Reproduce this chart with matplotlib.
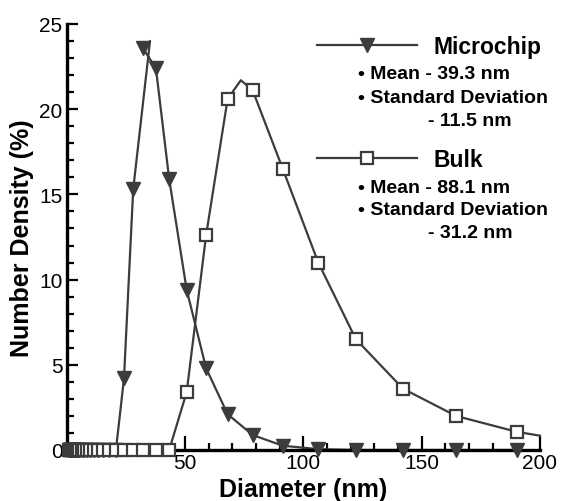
import numpy as np
import matplotlib.pyplot as plt
from matplotlib.lines import Line2D
from matplotlib.ticker import MultipleLocator

plt.rcParams['font.family'] = ['Liberation Sans', 'DejaVu Sans']

# diameter bins (nm)
diam = [1.0, 1.2, 1.4, 1.6, 1.9, 2.2, 2.5, 3.0, 3.4, 4.0, 4.6, 5.4, 6.3, 7.3, 8.5,
        9.8, 11.4, 13.3, 15.4, 17.9, 20.8, 24.2, 28.1, 32.1, 37.7, 43.3, 50.7,
        58.9, 68.0, 78.6, 91.3, 106.3, 122.2, 142.1, 164.5, 190.1]

# Microchip number density (%)
micro = [0] * 21 + [4.2, 15.3, 23.6, 22.4, 15.9, 9.4, 4.8, 2.1, 0.88, 0.25, 0.05,
                    0, 0, 0, 0]
micro_peak = (35.2, 24.0)   # top of the drawn curve, no marker

# Bulk number density (%)
bulk = [0] * 26 + [3.4, 12.6, 20.6, 21.1, 16.5, 11.0, 6.5, 3.6, 2.0, 1.07]
bulk_peak = (73.6, 21.7)
bulk_end = (200.0, 0.84)

col = '#3c3c3c'

fig = plt.figure(figsize=(5.63, 5.02), dpi=100)
ax = fig.add_axes([0.1185, 0.1016, 0.8406, 0.8486])

# curves: data points plus the drawn peak vertex
mx = diam[:23] + [micro_peak[0]] + diam[23:]
my = micro[:23] + [micro_peak[1]] + micro[23:]
ax.plot(mx, my, color=col, lw=1.6, clip_on=False, zorder=2)
ax.plot(diam, micro, ls='none', marker='v', ms=9.5, color=col, mfc=col, mec=col,
        clip_on=False, zorder=3)

bx = diam[:29] + [bulk_peak[0]] + diam[29:] + [bulk_end[0]]
by = bulk[:29] + [bulk_peak[1]] + bulk[29:] + [bulk_end[1]]
ax.plot(bx, by, color=col, lw=1.6, clip_on=False, zorder=4)
ax.plot(diam, bulk, ls='none', marker='s', ms=9, mfc='white', mec=col, mew=1.6,
        clip_on=False, zorder=5)

ax.set_xlim(0, 200)
ax.set_ylim(0, 25)
ax.set_xticks([50, 100, 150, 200])
ax.set_yticks([0, 5, 10, 15, 20, 25])
ax.xaxis.set_minor_locator(MultipleLocator(10))
ax.yaxis.set_minor_locator(MultipleLocator(1))
ax.tick_params(which='both', direction='in', width=1.6, labelsize=15, colors='black')
ax.tick_params(axis='x', which='major', length=10, pad=2)
ax.tick_params(axis='x', which='minor', length=5)
ax.tick_params(axis='y', which='major', length=8, pad=3)
ax.tick_params(axis='y', which='minor', length=5)

for s in ['top', 'right']:
    ax.spines[s].set_visible(False)
for s in ['left', 'bottom']:
    ax.spines[s].set_linewidth(2.4)

ax.set_xlabel('Diameter (nm)', fontsize=18, fontweight='bold', labelpad=4)
ax.set_ylabel('Number Density (%)', fontsize=18, fontweight='bold', labelpad=4)

# legend entries with the statistics beneath each
h1 = Line2D([], [], color=col, lw=1.6, marker='v', ms=9.5, mfc=col, mec=col)
h2 = Line2D([], [], color=col, lw=1.6, marker='s', ms=9, mfc='white', mec=col, mew=1.6)
lg1 = fig.legend([h1], ['Microchip'], loc='center left', bbox_to_anchor=(0.542, 0.906),
                 frameon=False, borderpad=0, handlelength=4.4, handletextpad=0.7,
                 numpoints=1, prop={'weight': 'bold', 'size': 16.5})
lg2 = fig.legend([h2], ['Bulk'], loc='center left', bbox_to_anchor=(0.542, 0.680),
                 frameon=False, borderpad=0, handlelength=4.4, handletextpad=0.7,
                 numpoints=1, prop={'weight': 'bold', 'size': 16.5})

stats = [('\u2022 Mean - 39.3 nm', 0.636, 0.851),
         ('\u2022 Standard Deviation', 0.636, 0.803),
         ('- 11.5 nm', 0.760, 0.757),
         ('\u2022 Mean - 88.1 nm', 0.636, 0.624),
         ('\u2022 Standard Deviation', 0.636, 0.580),
         ('- 31.2 nm', 0.760, 0.534)]
for t, x, y in stats:
    fig.text(x, y, t, fontsize=14, fontweight='bold', ha='left', va='center')

fig.savefig('out.png', dpi=100)
